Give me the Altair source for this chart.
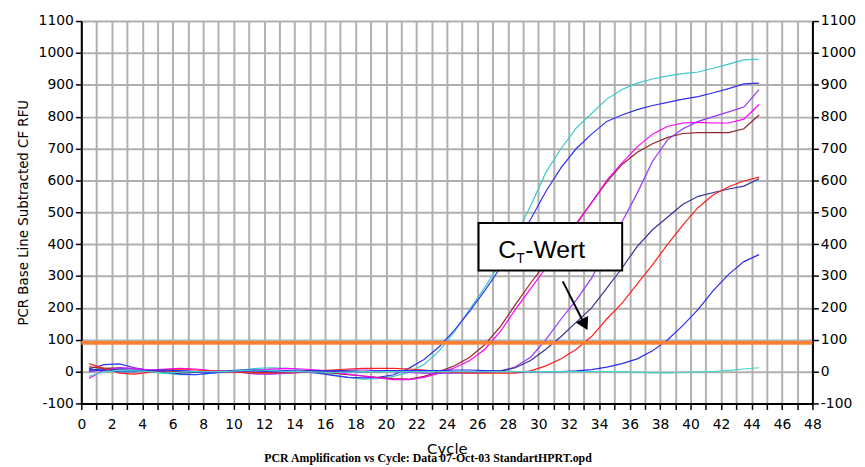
import altair as alt
import pandas as pd

# ---------------- data ----------------
cycles = [0.5 + i for i in range(45)]

series_names = ["S1", "S2", "S3", "S4", "S5", "S6", "S7", "S8", "S9"]
series_colors = ["#3CC8C8", "#3030F0", "#902828", "#FF00FF", "#9933FF",
                 "#333399", "#FF2020", "#2B2BEE", "#48D0C8"]

s1_cyan = [5, 10, 8, 4, 0, -6, -10, -10, -6, 0, 5, 10, 12, 10, 5, -2, -10, -18, -24, -22, -15, -2,
           22, 65, 125, 195, 265, 340, 425, 520, 625, 700, 765, 810, 855, 885, 905, 918, 928, 935,
           940, 952, 965, 978, 980]
s2_blue = [8, 22, 24, 12, 3, -2, -8, -10, -5, 0, 3, 6, 5, 3, 0, -5, -12, -18, -20, -18, -10, 10,
           38, 78, 130, 190, 255, 325, 400, 478, 565, 640, 700, 745, 785, 805, 822, 835, 845, 855,
           863, 875, 888, 903, 905]
s3_brown = [15, 10, 12, 8, 5, 2, 0, -2, -3, 0, 0, -3, -5, -5, -3, -2, -5, -10, -14, -18, -22, -24,
            -15, 0, 18, 45, 85, 140, 210, 278, 340, 400, 465, 530, 595, 650, 688, 715, 735, 747,
            750, 750, 750, 762, 805]
s4_magenta = [-22, 5, 12, 10, 5, 8, 10, 8, 3, 0, 2, 5, 8, 10, 8, 5, 0, -8, -14, -20, -25, -25,
              -18, -5, 12, 35, 70, 125, 195, 260, 325, 395, 462, 530, 600, 655, 705, 745, 770, 780,
              782, 780, 780, 792, 838]
s5_purple = [0, 5, 10, 8, 3, 5, 2, 0, -3, 0, -3, -8, -8, -5, -2, 0, 2, 5, 5, 3, 0, -3,
             -5, -6, -5, -4, -3, 0, 15, 45, 100, 165, 225, 293, 385, 470, 560, 660, 728, 762,
             785, 800, 815, 830, 885]
s6_navy = [5, 8, 5, 2, 0, -3, -5, -3, 0, 2, 5, 3, 0, -2, 0, 2, 3, 2, 0, 0, 2, 3,
           3, 2, 0, 0, 0, 2, 12, 35, 70, 110, 155, 200, 262, 325, 393, 445, 485, 525,
           550, 562, 573, 582, 605]
s7_red = [25, 10, -5, -8, -2, 5, 8, 5, 2, 0, -3, -5, -5, -3, 0, 3, 5, 8, 10, 10, 10, 8,
          5, 0, -3, -5, -5, -5, -5, 2, 18, 40, 70, 110, 165, 215, 275, 335, 400, 460,
          515, 555, 580, 598, 610]
s8_blue = [5, 3, 0, 0, 3, 5, 3, 0, -2, 0, 2, 2, 0, 0, 2, 3, 2, 0, 0, 2, 3, 3,
           3, 3, 5, 5, 3, 2, 0, 0, 0, 0, 2, 6, 14, 25, 40, 65, 100, 145,
           195, 255, 305, 345, 367]
s9_cyan = [-15, 0, 3, 2, 0, -5, -2, 0, 0, 0, 3, 5, 3, 0, 0, -2, -3, -2, 0, 0, 0, 0,
           0, 0, 0, 0, 0, 0, 0, 0, 0, 0, 0, 0, 0, 0, -2, -4, -4, -3,
           0, 0, 4, 8, 12]

threshold = [90]

x_ticks = list(range(0, 49))
y_ticks = list(range(-100, 1101, 100))

# annotation (in data coordinates)
box_x = [26.08]
box_x2 = [35.51]
box_y = [466]
box_y2 = [317]
arrow_c = [31.61, 33.05]
arrow_v = [283, 147]
head_c = [33.05]
head_v = [147]
label_parts = ["C", "T", "-Wert"]
label_c = [27.38, 28.55, 29.14]
label_v = [357, 342, 357]
label_sizes = [25, 14, 25]

footer = "PCR Amplification vs Cycle: Data 07-Oct-03 StandartHPRT.opd"

# ---------------- tables ----------------
all_series = [s1_cyan, s2_blue, s3_brown, s4_magenta, s5_purple, s6_navy, s7_red, s8_blue, s9_cyan]
rows = []
for name, vals in zip(series_names, all_series):
    for c, v in zip(cycles, vals):
        rows.append({"series": name, "cycle": c, "rfu": v})
df = pd.DataFrame(rows)

x_scale = alt.Scale(domain=[0, 48], nice=False, zero=False)
y_scale = alt.Scale(domain=[-100, 1100], nice=False, zero=False)

FONT = "DejaVu Sans"

x_axis = alt.Axis(values=x_ticks,
                  labelExpr="datum.value % 2 === 0 ? datum.label : ''",
                  title="Cycle", grid=True, gridColor="#B0B0B0", gridWidth=2,
                  domainColor="black", domainWidth=2, tickColor="black", tickWidth=1.5,
                  tickSize=6, labelFont=FONT, labelFontSize=14, labelColor="black",
                  labelPadding=8, labelFlush=False, labelOverlap=False,
                  titleFont=FONT, titleFontSize=15, titleFontWeight="normal",
                  titleColor="black", titlePadding=11)

y_axis_left = alt.Axis(values=y_ticks, labelExpr="'' + datum.value",
                       title="PCR Base Line Subtracted CF RFU",
                       grid=True, gridColor="#B0B0B0", gridWidth=2,
                       domainColor="black", domainWidth=2, tickColor="black", tickWidth=1.5,
                       tickSize=6, labelFont=FONT, labelFontSize=14, labelColor="black",
                       labelPadding=2, labelFlush=False, labelOverlap=False,
                       titleFont=FONT, titleFontSize=13.5, titleFontWeight="normal",
                       titleColor="black", titlePadding=8)

y_axis_right = alt.Axis(orient="right", values=y_ticks, labelExpr="'' + datum.value",
                        title=None, grid=False,
                        domainColor="black", domainWidth=2, tickColor="black", tickWidth=1.5,
                        tickSize=6, labelFont=FONT, labelFontSize=14, labelColor="black",
                        labelPadding=2, labelFlush=False, labelOverlap=False)

lines = alt.Chart(df).mark_line(strokeWidth=1.2).encode(
    x=alt.X("cycle:Q", scale=x_scale, axis=x_axis),
    y=alt.Y("rfu:Q", scale=y_scale, axis=y_axis_left),
    color=alt.Color("series:N", scale=alt.Scale(domain=series_names, range=series_colors),
                    legend=None),
    order=alt.Order("cycle:Q"),
)

thr = alt.Chart(pd.DataFrame({"rfu": threshold})).mark_rule(
    color="#FF8033", strokeWidth=4).encode(
    y=alt.Y("rfu:Q", scale=y_scale, axis=y_axis_right)
)

box = alt.Chart(pd.DataFrame({"x": box_x, "x2": box_x2, "y": box_y, "y2": box_y2})).mark_rect(
    fill="white", stroke="black", strokeWidth=2).encode(
    x=alt.X("x:Q", scale=x_scale, axis=x_axis), x2="x2:Q",
    y=alt.Y("y:Q", scale=y_scale, axis=None), y2="y2:Q"
)

label_df = pd.DataFrame({"t": label_parts, "c": label_c, "v": label_v, "s": label_sizes})
label = alt.Chart(label_df).mark_text(align="left", baseline="alphabetic",
                                      font="Liberation Sans", color="black").encode(
    x=alt.X("c:Q", scale=x_scale, axis=x_axis),
    y=alt.Y("v:Q", scale=y_scale, axis=None),
    text="t:N",
    size=alt.Size("s:Q", scale=None, legend=None),
)

arrow = alt.Chart(pd.DataFrame({"c": arrow_c, "v": arrow_v})).mark_line(
    color="black", strokeWidth=2).encode(
    x=alt.X("c:Q", scale=x_scale, axis=x_axis),
    y=alt.Y("v:Q", scale=y_scale, axis=None),
)

head = alt.Chart(pd.DataFrame({"c": head_c, "v": head_v})).mark_point(
    shape="triangle-down", filled=True, color="black", size=200, angle=332.5,
    opacity=1).encode(
    x=alt.X("c:Q", scale=x_scale, axis=x_axis),
    y=alt.Y("v:Q", scale=y_scale, axis=None),
)

foot = alt.Chart(pd.DataFrame({"t": [footer]})).mark_text(
    font="Liberation Serif", fontWeight="bold", fontSize=12, color="black",
    align="center", baseline="middle").encode(
    text="t:N", x=alt.value(350), y=alt.value(441)
)

chart = alt.layer(lines, thr, box, label, arrow, head, foot).resolve_axis(
    y="independent"
).properties(
    width=738, height=386,
    autosize=alt.AutoSizeParams(type="none"),
    padding={"left": 74, "top": 11, "right": 45, "bottom": 62},
    background="white",
).configure_view(stroke=None)

chart.save("out.html", embed_options={"renderer": "svg", "actions": False})
